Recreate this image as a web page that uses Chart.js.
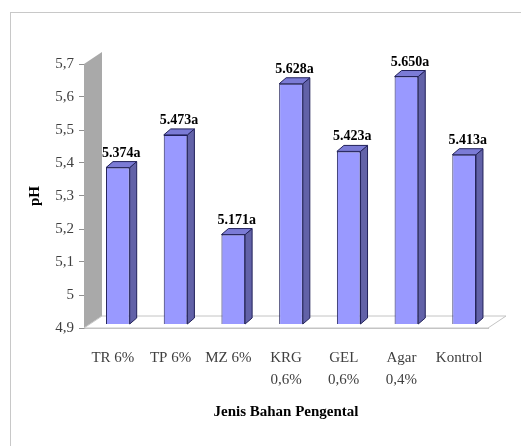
<!DOCTYPE html>
<html>
<head>
<meta charset="utf-8">
<script src="https://cdn.jsdelivr.net/npm/chart.js@4/dist/chart.umd.min.js"></script>
<style>
  html, body { margin: 0; padding: 0; background: #fff; overflow: hidden; }
  #frame { position: absolute; left: 10px; top: 12px; width: 540px; height: 460px; border: 1px solid #c8c8c8; }
  #chart { position: absolute; left: 0; top: 0; }
</style>
</head>
<body>
<div id="frame"></div>
<canvas id="chart" width="521" height="446"></canvas>
<script>
// data
var kategori = [['TR 6%'], ['TP 6%'], ['MZ 6%'], ['KRG', '0,6%'], ['GEL', '0,6%'], ['Agar', '0,4%'], ['Kontrol']];
var nilaiPH = [5.374, 5.473, 5.171, 5.628, 5.423, 5.650, 5.413];
var hurufNotasi = ['a', 'a', 'a', 'a', 'a', 'a', 'a'];
var yMin = 4.9, yMax = 5.7;

// 3D look: wall/floor depth and bar depth
var dinding = { dx: 18, dy: -12 };
var geserBatang = { dx: 5, dy: -4 };
var tebalBatang = { dx: 7, dy: -6 };

var efek3D = {
  id: 'efek3D',
  beforeDatasetsDraw: function (chart) {
    var c = chart.ctx, a = chart.chartArea;
    c.save();
    // back wall
    c.fillStyle = '#a9a9a9';
    c.beginPath();
    c.moveTo(a.left, a.top);
    c.lineTo(a.left + dinding.dx, a.top + dinding.dy);
    c.lineTo(a.left + dinding.dx, a.bottom + dinding.dy);
    c.lineTo(a.left, a.bottom);
    c.closePath();
    c.fill();
    // floor
    c.fillStyle = '#ffffff';
    c.strokeStyle = '#c4c4c4';
    c.lineWidth = 1;
    c.beginPath();
    c.moveTo(a.left, a.bottom);
    c.lineTo(a.right, a.bottom);
    c.lineTo(a.right + dinding.dx, a.bottom + dinding.dy);
    c.lineTo(a.left + dinding.dx, a.bottom + dinding.dy);
    c.closePath();
    c.fill();
    c.stroke();
    c.restore();
    // bars sit in the middle of the depth
    c.save();
    c.translate(geserBatang.dx, geserBatang.dy);
  },
  afterDatasetsDraw: function (chart) {
    var c = chart.ctx;
    var meta = chart.getDatasetMeta(0);
    var dasar = chart.scales.y.getPixelForValue(yMin);
    meta.data.forEach(function (bar, i) {
      var p = bar.getProps(['x', 'y', 'width'], true);
      var l = p.x - p.width / 2, r = p.x + p.width / 2;
      c.lineWidth = 1;
      c.strokeStyle = '#22225a';
      // side face
      c.fillStyle = '#6262a8';
      c.beginPath();
      c.moveTo(r, p.y);
      c.lineTo(r + tebalBatang.dx, p.y + tebalBatang.dy);
      c.lineTo(r + tebalBatang.dx, dasar + tebalBatang.dy);
      c.lineTo(r, dasar);
      c.closePath();
      c.fill();
      c.stroke();
      // top face
      c.fillStyle = '#7b7bd6';
      c.beginPath();
      c.moveTo(l, p.y);
      c.lineTo(l + tebalBatang.dx, p.y + tebalBatang.dy);
      c.lineTo(r + tebalBatang.dx, p.y + tebalBatang.dy);
      c.lineTo(r, p.y);
      c.closePath();
      c.fill();
      c.stroke();
      // value label
      c.fillStyle = '#000';
      c.font = 'bold 14px "Liberation Serif"';
      c.textAlign = 'center';
      c.textBaseline = 'alphabetic';
      c.fillText(nilaiPH[i].toFixed(3) + hurufNotasi[i], p.x + tebalBatang.dx / 2, p.y + tebalBatang.dy - 5);
    });
    c.restore();
  }
};

var ctx = document.getElementById('chart').getContext('2d');
var grafik = new Chart(ctx, {
  type: 'bar',
  data: {
    labels: kategori,
    datasets: [{
      data: nilaiPH,
      backgroundColor: '#9999ff',
      borderColor: '#22225a',
      borderWidth: 1,
      barPercentage: 0.41,
      categoryPercentage: 1
    }]
  },
  options: {
    responsive: false,
    devicePixelRatio: 1,
    animation: false,
    layout: { padding: { left: 0, top: 64, right: 33, bottom: 0 } },
    plugins: { legend: { display: false }, tooltip: { enabled: false } },
    scales: {
      x: {
        grid: { display: false, drawTicks: false },
        border: { display: true, color: '#c4c4c4' },
        ticks: { padding: 19, color: '#404040', font: { family: 'Liberation Serif', size: 15, lineHeight: 1.45 } },
        title: { display: true, text: 'Jenis Bahan Pengental', color: '#000', padding: { top: 0, bottom: 25 }, font: { family: 'Liberation Serif', size: 15, weight: 'bold' } },
        afterFit: function (s) { s.height = 118; }
      },
      y: {
        min: yMin,
        max: yMax,
        ticks: {
          stepSize: 0.1,
          padding: 5,
          color: '#404040',
          font: { family: 'Liberation Serif', size: 15 },
          callback: function (v) { return String(Math.round(v * 10) / 10).replace('.', ','); }
        },
        grid: { display: true, drawOnChartArea: false, tickLength: 5, color: '#909090' },
        border: { display: true, color: '#909090' },
        title: { display: true, text: 'pH', color: '#000', padding: { top: 26, bottom: 0 }, font: { family: 'Liberation Serif', size: 15, weight: 'bold' } },
        afterFit: function (s) { s.width = 84; }
      }
    }
  },
  plugins: [efek3D]
});
</script>
</body>
</html>
